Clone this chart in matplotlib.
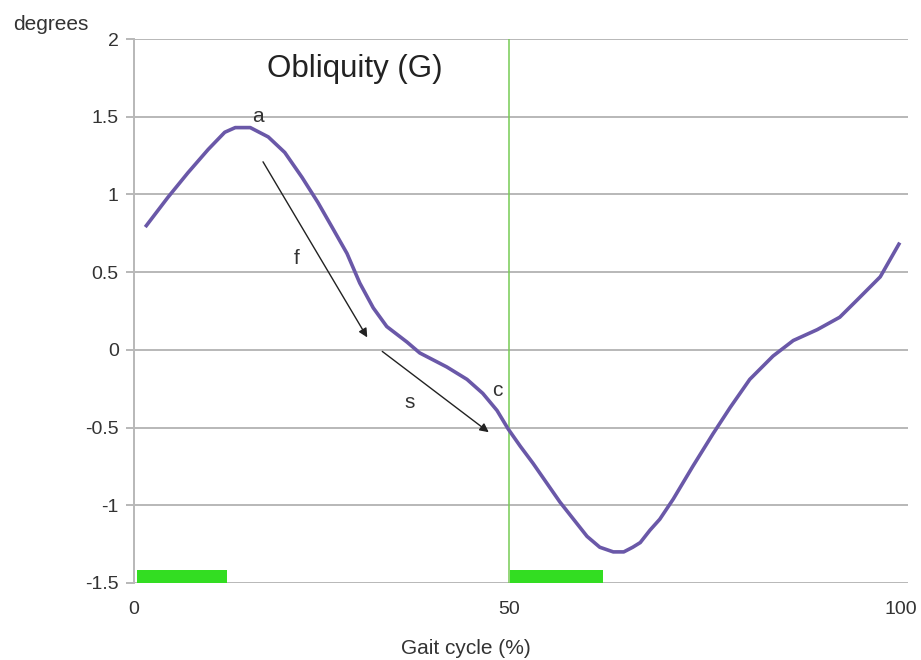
import matplotlib.pyplot as plt

plt.rcParams['font.family'] = ['Liberation Sans', 'DejaVu Sans']

# gait cycle (%) and pelvic obliquity (degrees)
cycle = [1.5, 4.5, 7.2, 9.9, 12.1, 13.5, 15.5, 17.9, 20.1, 22.4, 24.5, 26.4,
         28.4, 30.1, 31.9, 33.7, 36.4, 38.1, 41.7, 44.4, 46.5, 48.4, 49.9,
         51.5, 53.2, 56.8, 60.4, 62.1, 63.9, 65.3, 66.5, 67.5, 68.8, 70.1,
         71.9, 74.5, 77.2, 79.5, 82.1, 85.2, 87.9, 91.1, 94.1, 96.4, 99.5,
         102.1]
obliquity = [0.79, 0.98, 1.14, 1.29, 1.40, 1.43, 1.43, 1.37, 1.27, 1.11, 0.95,
             0.79, 0.62, 0.43, 0.27, 0.15, 0.05, -0.02, -0.11, -0.19, -0.28,
             -0.39, -0.51, -0.62, -0.73, -0.98, -1.20, -1.27, -1.30, -1.30,
             -1.27, -1.24, -1.16, -1.09, -0.96, -0.75, -0.54, -0.37, -0.19,
             -0.04, 0.06, 0.13, 0.21, 0.32, 0.47, 0.69]

# green bars along the bottom (start, end) and their top
bar_start = [0.4, 50.1]
bar_end = [12.4, 62.5]
bar_top = -1.415

toe_off = 50

# annotation letters and arrows
letters = ['a', 'f', 's', 'c']
letter_x = [16.5, 21.7, 36.8, 48.4]
letter_y = [1.50, 0.59, -0.34, -0.26]
arrow_from = [(17.2, 1.21), (33.1, -0.01)]
arrow_to = [(31.1, 0.08), (47.3, -0.53)]

yticks = [-1.5, -1, -0.5, 0, 0.5, 1, 1.5, 2]
ytick_labels = ['-1.5', '-1', '-0.5', '0', '0.5', '1', '1.5', '2']
xticks = [0, 50, 100]

grey = '#b8b8b8'
text_col = '#333333'

fig = plt.figure(figsize=(9.21, 6.6), dpi=100)
ax = fig.add_axes([0.1455, 0.1167, 0.8404, 0.8242])

ax.set_xlim(0, 103.2)
ax.set_ylim(-1.5, 2)

for y in yticks:
    ax.axhline(y, color=grey, lw=1.4, zorder=1)

ax.axvline(toe_off, color='#77cc55', lw=1.1, zorder=2)

for s, e in zip(bar_start, bar_end):
    ax.bar(s, bar_top - (-1.5), width=e - s, bottom=-1.5, align='edge',
           color='#33dd22', zorder=3)

ax.plot(cycle, obliquity, color='#6a58a8', lw=2.6, solid_capstyle='butt',
        solid_joinstyle='round', zorder=4)

for (x0, y0), (x1, y1) in zip(arrow_from, arrow_to):
    ax.annotate('', xy=(x1, y1), xytext=(x0, y0),
                arrowprops=dict(arrowstyle='-|>', color='#222222', lw=1.0,
                                mutation_scale=13, shrinkA=0, shrinkB=0),
                zorder=5)

for t, x, y in zip(letters, letter_x, letter_y):
    ax.text(x, y, t, fontsize=15, color=text_col, ha='center', va='center',
            zorder=6)

ax.text(29.5, 1.755, 'Obliquity (G)', fontsize=22.5, color='#222222',
        ha='center', va='baseline')

for side in ['top', 'right', 'bottom']:
    ax.spines[side].set_visible(False)
ax.spines['left'].set_color(grey)
ax.spines['left'].set_linewidth(1.4)

ax.set_yticks(yticks)
ax.set_yticklabels(ytick_labels)
ax.tick_params(axis='y', length=6, width=1.4, color=grey, pad=5,
               labelsize=14, labelcolor=text_col)
ax.set_xticks(xticks)
ax.set_xticklabels([str(v) for v in xticks])
ax.tick_params(axis='x', length=0, pad=13, labelsize=14, labelcolor=text_col)
ax.get_xticklabels()[-1].set_horizontalalignment('left')

fig.text(466 / 921, 1 - 648 / 660, 'Gait cycle (%)', fontsize=15,
         color=text_col, ha='center', va='center')
fig.text(51 / 921, 1 - 25 / 660, 'degrees', fontsize=15, color=text_col,
         ha='center', va='center')

fig.savefig('out.png', dpi=100, facecolor='white')
